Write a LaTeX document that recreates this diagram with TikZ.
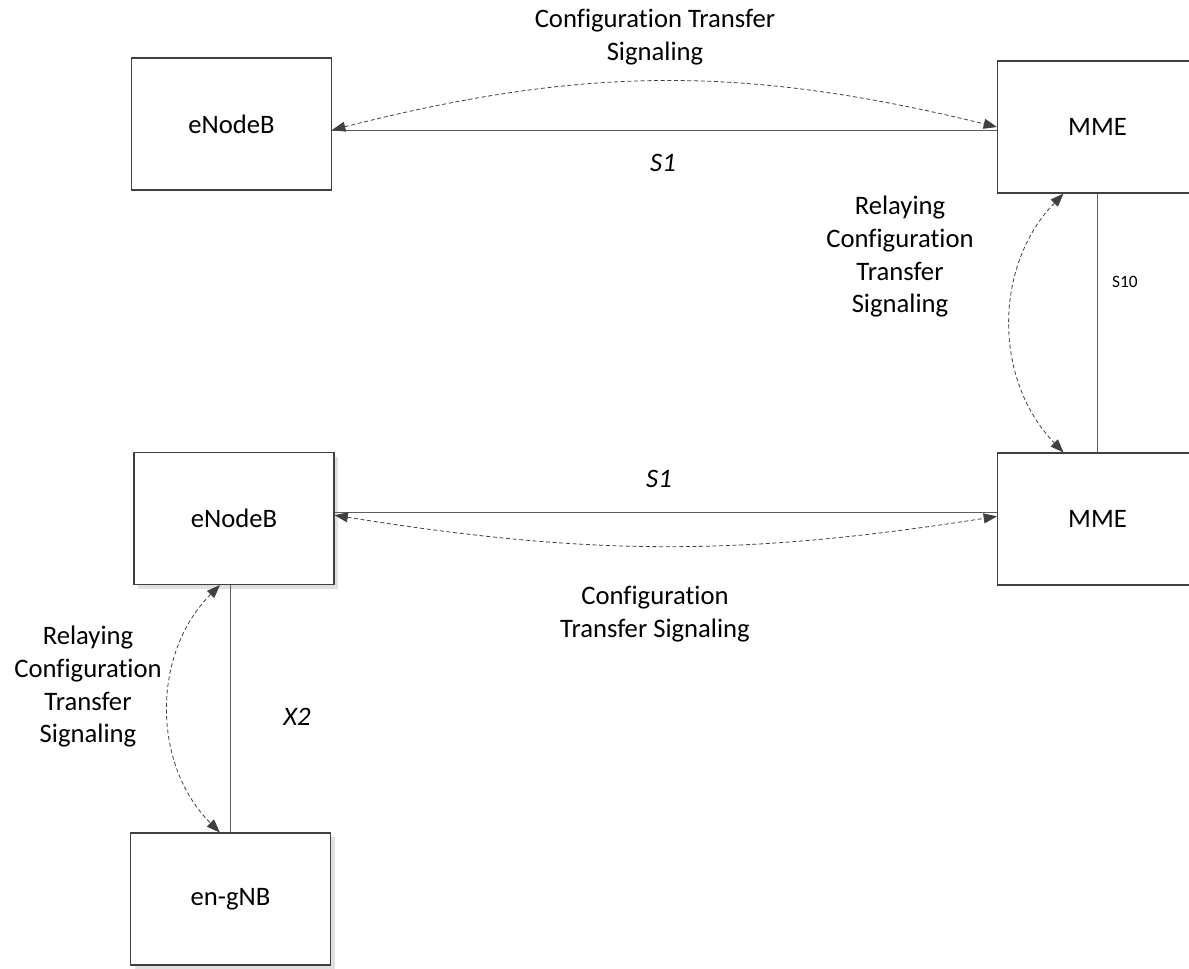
\documentclass[tikz,border=0pt]{standalone}
\usepackage{fontspec}
\setmainfont{Carlito}[Ligatures=NoCommon]
\definecolor{edge1}{RGB}{64, 64, 64}
\usetikzlibrary{arrows.meta, positioning, shadows}

\begin{document}
\begin{tikzpicture}[x=0.75pt, y=-0.75pt,
  netbox/.style={draw=edge1, line width=0.8pt, fill=white, minimum width=150pt, minimum height=99pt, inner sep=0pt, font=\fontsize{20}{24}\selectfont},
  boxshadow/.style={drop shadow={shadow xshift=3pt, shadow yshift=-3pt, fill=black!12, opacity=1}},
  iface/.style={draw=edge1!85, line width=0.8pt},
  signal/.style={draw=edge1, line width=0.6pt, dash pattern=on 3pt off 2pt, {Triangle[length=10pt,width=7.5pt]}-{Triangle[length=10pt,width=7.5pt]}},
  lbl/.style={align=center, font=\fontsize{20}{24.5}\selectfont},
  ilbl/.style={font=\fontsize{20}{24}\selectfont\itshape}]

  \useasboundingbox (0,0) rectangle (1189,968);

  % network elements
  \node[netbox] (enbA) at (231.5,124) {eNodeB};
  \node[netbox] (mmeA) at (1097.5,127) {MME};
  \node[netbox, boxshadow] (enbB) at (234,518.5) {eNodeB};
  \node[netbox] (mmeB) at (1097.5,519) {MME};
  \node[netbox, boxshadow] (gnb) at (230.5,899) {en-gNB};

  % interfaces
  \draw[iface] ([yshift=-5pt]enbA.east) -- ([yshift=-5pt]enbA.east -| mmeA.west);
  \draw[iface] (mmeA.south) -- (mmeB.north);
  \draw[iface] ([yshift=4.5pt]enbB.east) -- ([yshift=4.5pt]enbB.east -| mmeB.west);
  \draw[iface] (gnb.north) -- (gnb.north |- enbB.south);

  % signaling
  \draw[signal] ([yshift=-4.5pt]enbA.east) to[bend left=14] (mmeA.west);
  \draw[signal] ([xshift=-25.5pt]mmeA.south) to[bend right=44] ([xshift=-25.5pt]mmeB.north);
  \draw[signal] ([yshift=2.5pt]enbB.east) to[bend right=9] ([yshift=2pt]mmeB.west);
  \draw[signal] ([xshift=-10.5pt]enbB.south) to[bend right=45] ([xshift=-8pt]gnb.north);

  % labels
  \node[lbl] (cfgA) at (655,37) {Configuration Transfer\\Signaling};
  \node[ilbl] (sA) at (663,163) {S1};
  \node[lbl] (relA) at (900,257) {Relaying\\Configuration\\Transfer\\Signaling};
  \node[font=\fontsize{13}{15}\selectfont] (sTen) at (1125,282) {S10};
  \node[ilbl] (sB) at (659,479) {S1};
  \node[lbl] (cfgB) at (655,614) {Configuration\\Transfer Signaling};
  \node[lbl] (relB) at (88,687) {Relaying\\Configuration\\Transfer\\Signaling};
  \node[ilbl] (xTwo) at (297,717) {X2};
\end{tikzpicture}
\end{document}
